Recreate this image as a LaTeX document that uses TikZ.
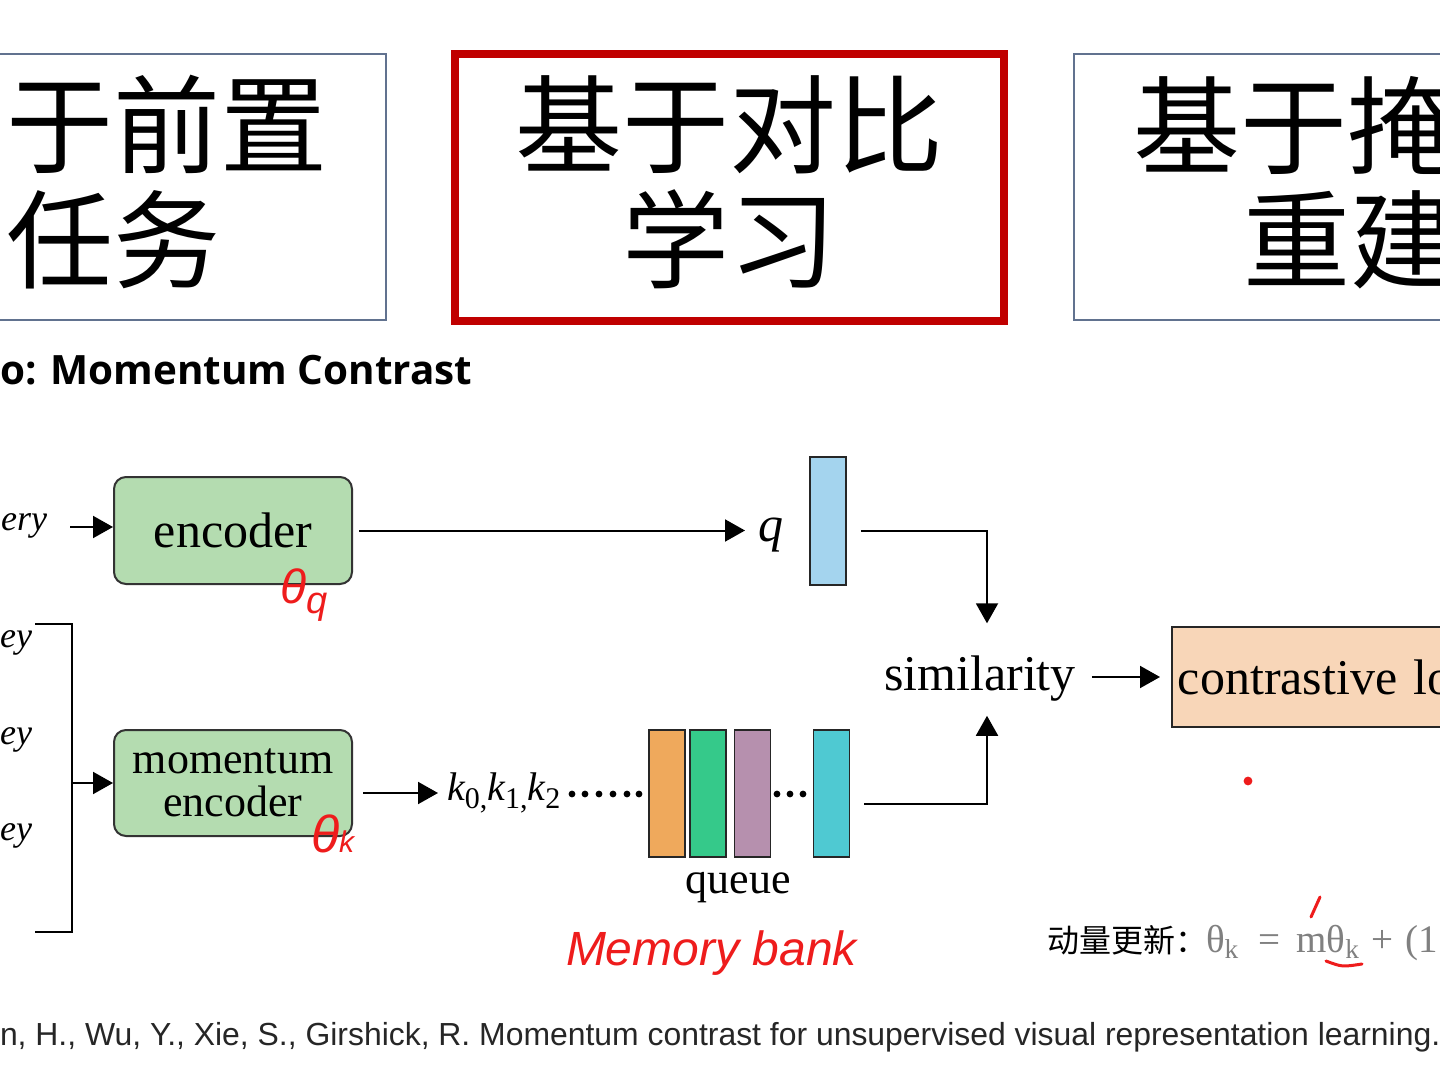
\documentclass[tikz,border=0pt]{standalone}
\usepackage{fontspec}
\usetikzlibrary{arrows.meta, positioning, calc}
\setmainfont{Liberation Serif}
\newfontfamily\cjk{Noto Sans CJK SC}
\newfontfamily\titlefont{Open Sans}
\newfontfamily\citefont{Liberation Sans}
\newfontfamily\handfont{Liberation Sans}

\definecolor{slate}{HTML}{61728F}
\definecolor{boxred}{HTML}{C00000}
\definecolor{encgreen}{HTML}{B4DCB0}
\definecolor{qblue}{HTML}{A4D4EE}
\definecolor{qorange}{HTML}{EFA95C}
\definecolor{qgreen}{HTML}{35C98A}
\definecolor{qpurple}{HTML}{B690AE}
\definecolor{qcyan}{HTML}{4FC9D2}
\definecolor{losspeach}{HTML}{F8D6B8}
\definecolor{inkred}{HTML}{EE1C1C}
\definecolor{formgray}{HTML}{808080}

\newcommand{\keysub}[1]{\raisebox{-0.22em}{\fontsize{15}{15}\selectfont\upshape #1}}

\begin{document}
\begin{tikzpicture} [x = 0.5pt, y = -0.5pt, >= {Triangle[length = 10pt, width = 11pt]}, line width = 1pt,
  topbox/.style = {draw = slate, line width = 1pt, minimum width = 278.5pt, minimum height = 133pt, inner sep = 0pt},
  bigcjk/.style = {font = \cjk\fontsize{53.5}{57.5}\selectfont, inner sep = 0pt},
  encbox/.style = {draw = black!80, fill = encgreen, rounded corners = 6pt, minimum width = 119pt, minimum height = 53.5pt, align = center, inner sep = 0pt},
  bar/.style = {draw = black!85, line width = 0.9pt, minimum width = 18pt, minimum height = 63.5pt, inner sep = 0pt},
  keylbl/.style = {font = \fontsize{18}{18}\selectfont\itshape, inner sep = 0pt},
  inkmark/.style = {text = inkred, inner sep = 0pt}]

\useasboundingbox (0,0) rectangle (1440,1080);
\fill [white] (0,0) rectangle (1440,1080);
\clip (0,0) rectangle (1440,1080);

% three method boxes
\node [topbox] (pretask) at (107.5,187) {};
\node [bigcjk, anchor = west, align = left] (pretasktxt) at (5,182.5) {于前置\\任务};
\node [topbox, draw = boxred, line width = 4pt, minimum width = 274.5pt, minimum height = 133.5pt] (contrast) at (729.5,187.5) {};
\node [bigcjk, align = center] (contrasttxt) at (729,182.5) {基于对比\\学习};
\node [topbox] (masked) at (1352.5,187) {};
\node [bigcjk, anchor = west] (maskedtxt) at (1132,125) {基于掩};
\node [bigcjk, anchor = west] (maskedtxt2) at (1242,240) {重建};

\node [font = \titlefont\bfseries\fontsize{20.2}{20.2}\selectfont, anchor = base west, inner sep = 0pt] (title) at (-1,385) {o: Momentum Contrast};

% query branch
\node [keylbl, anchor = base east] (query) at (48,530) {ery};
\coordinate (qin) at (70,527);
\node [encbox, font = \fontsize{25}{25}\selectfont] (enc) at (233,530.5) {encoder};
\draw [->] (qin) -- (qin -| enc.west);
\node [font = \fontsize{25}{25}\selectfont\itshape, anchor = west, inner sep = 0pt] (qlab) at (757,535) {q};
\draw [->, shorten <= 3pt, shorten >= 6pt] (enc.east) -- (enc.east -| qlab.west);
\node [bar, fill = qblue, minimum height = 64pt] (qbar) at (828,521) {};

% key branch
\node [keylbl, anchor = base east] (key1) at (33,647) {ey};
\node [keylbl, anchor = base east] (key2) at (33,744) {ey};
\node [keylbl, anchor = base east] (key3) at (33,840) {ey};
\coordinate (ktopl) at (35,624);
\coordinate (ktop) at (72,624);
\coordinate (kbot) at (72,932);
\coordinate (kbotl) at (35,932);
\coordinate (kmid) at (72,783);
\draw [line width = 1.2pt] (ktopl) -- (ktop) -- (kbot) -- (kbotl);
\node [encbox, font = \fontsize{22}{21.5}\selectfont, minimum height = 53pt] (menc) at (233,783) {momentum\\encoder};
\draw [->] (kmid) -- (kmid -| menc.west);

\node [font = \fontsize{20}{20}\selectfont\itshape, inner sep = 0pt, anchor = west] (keys) at (446,793) {k\keysub{0,}k\keysub{1,}k\keysub{2}};
\draw [->, shorten <= 5pt, shorten >= 4pt] (menc.east |- keys.west) -- (keys.west);
\foreach \x in {572,585,599,613,627,639} \fill (\x,794) circle (1.7pt);

% queue
\node [bar, fill = qorange] (barA) at (667,793.5) {};
\node [bar, fill = qgreen] (barB) at (708,793.5) {};
\node [bar, fill = qpurple] (barC) at (752.5,793.5) {};
\node [bar, fill = qcyan] (barD) at (831.5,793.5) {};
\foreach \x in {777,790,803} \fill (\x,794) circle (1.7pt);
\node [font = \fontsize{22}{22}\selectfont, anchor = base, inner sep = 0pt] (queue) at (738,893) {queue};

% similarity and loss
\node [font = \fontsize{25}{25}\selectfont, anchor = base, inner sep = 0pt] (sim) at (980,690) {similarity};
\draw [->, shorten <= 7pt, shorten >= 15.5pt] (qbar.east |- enc.east) -| ($(sim.north)+(7,0)$);
\draw [->, shorten <= 7pt, shorten >= 7pt] ([yshift = -5.25pt]barD.east) -| ($(sim.south)+(7,0)$);
\node [draw = black!85, fill = losspeach, line width = 0.9pt, anchor = west, text width = 194pt, align = left, inner xsep = 3pt, minimum height = 50pt, font = \fontsize{25}{25}\selectfont] (loss) at (1171,677) {contrastive lo};
\draw [->, shorten <= 7.5pt, shorten >= 5.5pt] (sim.east |- loss.west) -- (loss.west);

% handwritten notes
\node [inkmark, font = \handfont\itshape\fontsize{24}{24}\selectfont, anchor = base west] (thetaq) at (279,603) {θ\raisebox{-5pt}{\fontsize{19}{19}\selectfont q}};
\node [inkmark, font = \handfont\itshape\fontsize{26}{26}\selectfont, anchor = base west] (thetak) at (310,852) {θ\fontsize{15}{15}\selectfont k};
\node [inkmark, font = \handfont\itshape\fontsize{24}{24}\selectfont, anchor = base west] (membank) at (565,965) {Memory bank};
\draw [inkred, line width = 1.5pt, line cap = round] (1311,917) -- (1320,897);
\draw [inkred, line width = 1.5pt, line cap = round] (1326,961) .. controls (1342,967) .. (1362,964);
\fill [inkred] (1248,781) circle (2.2pt);

% momentum update
\node [font = \cjk\fontsize{16}{16}\selectfont, anchor = base west, inner sep = 0pt] (update) at (1046,952) {动量更新：};
\node [font = \fontsize{19.5}{19.5}\selectfont, text = formgray, anchor = base west, inner sep = 0pt] (formula) at (1205,952) {θ\textsubscript{k}\hspace{0.5em}=\hspace{0.4em}mθ\textsubscript{k}\hspace{0.3em}+\hspace{0.3em}(1};

\node [font = \citefont\fontsize{15.95}{15.95}\selectfont, anchor = base west, inner sep = 0pt, text = black!85] (cite) at (-1,1045) {n, H., Wu, Y., Xie, S., Girshick, R. Momentum contrast for unsupervised visual representation learning.};

\end{tikzpicture}
\end{document}
